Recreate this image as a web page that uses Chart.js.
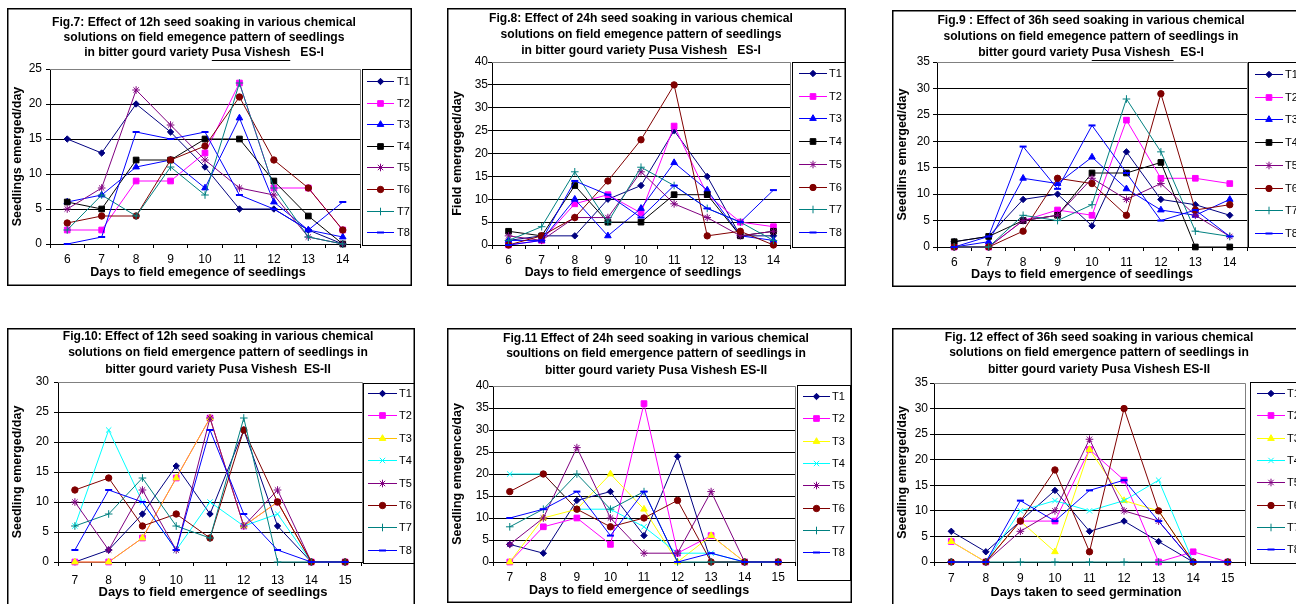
<!DOCTYPE html>
<html><head><meta charset="utf-8">
<script src="https://cdn.jsdelivr.net/npm/chart.js@4/dist/chart.umd.min.js"></script>
<style>
html,body{margin:0;padding:0;background:#fff;overflow:hidden;width:1296px;height:604px;position:relative;}
canvas{position:absolute;}
</style></head><body>
<script>
// ---------- DATA ----------
const seriesNames = ['T1','T2','T3','T4','T5','T6','T7','T8'];
const daysES1 = ['6','7','8','9','10','11','12','13','14'];
const daysES2 = ['7','8','9','10','11','12','13','14','15'];
const yMaxes = [25, 40, 35, 30, 40, 35];
const yStep = 5;

const fig7Values = [
  [15,13,20,16,11,5,5,2,0],
  [2,2,9,9,13,23,8,8,2],
  [6,7,11,12,8,18,6,2,1],
  [6,5,12,12,15,15,9,4,0],
  [5,8,22,17,12,8,7,1,0],
  [3,4,4,12,14,21,12,8,2],
  [2,7,4,11,7,23,8,1,0],
  [0,1,16,15,16,7,5,2,6]
];
const fig8Values = [
  [1,2,2,10,13,25,15,2,2],
  [0,1,9,11,7,26,11,5,4],
  [1,1,10,2,8,18,12,2,1],
  [3,2,13,5,5,11,11,2,3],
  [2,1,6,6,16,9,6,2,3],
  [0,2,6,14,23,35,2,3,0],
  [1,4,16,5,17,13,8,5,1],
  [0,1,14,11,6,13,8,5,12]
];
const fig9Values = [
  [1,2,9,10,4,18,9,8,6],
  [0,0,5,7,6,24,13,13,12],
  [0,1,13,12,17,11,7,6,9],
  [1,2,5,6,14,14,16,0,0],
  [0,0,5,6,13,9,12,6,2],
  [0,0,3,13,12,6,29,7,8],
  [0,0,6,5,8,28,18,3,2],
  [0,2,19,11,23,14,5,7,2]
];
const fig10Values = [
  [0,2,8,16,8,22,6,0,0],
  [0,0,4,14,24,6,10,0,0],
  [0,0,4,14,24,6,10,0,0],
  [6,22,10,2,10,6,8,0,0],
  [10,2,12,2,24,6,12,0,0],
  [12,14,6,8,4,22,10,0,0],
  [6,8,14,6,4,24,0,0,0],
  [2,12,10,2,22,8,2,0,0]
];
const fig11Values = [
  [4,2,14,16,6,24,0,0,0],
  [0,8,10,4,36,2,6,0,0],
  [0,10,12,20,12,0,6,0,0],
  [20,20,12,12,8,2,2,0,0],
  [4,10,26,10,2,2,16,0,0],
  [16,20,12,8,10,14,0,0,0],
  [8,12,20,12,16,0,0,0,0],
  [10,12,16,6,16,0,2,0,0]
];
const fig12Values = [
  [6,2,8,14,6,8,4,0,0],
  [4,0,8,8,22,16,0,2,0],
  [4,0,8,2,22,12,10,0,0],
  [0,0,10,12,10,12,16,0,0],
  [0,0,6,10,24,10,8,0,0],
  [0,0,8,18,2,30,10,0,0],
  [0,0,0,0,0,0,0,0,0],
  [0,0,12,8,14,16,8,0,0]
];

// ---------- STYLES ----------
const FONT = '"Liberation Sans", Arial, Helvetica, sans-serif';
const colorsA = ['#000080','#FF00FF','#0000FF','#000000','#800080','#800000','#008080','#0000FF'];
const colorsB = ['#000080','#FF00FF','#FFFF00','#00FFFF','#800080','#800000','#008080','#0000FF'];
const linesB10 = ['#000080','#FF00FF','#FFC000','#00FFFF','#800080','#800000','#008080','#0000FF'];
const stylesA = ['rectRot','rect','triangle','rect','star','circle','cross','line'];
const stylesB = ['rectRot','rect','triangle','crossRot','star','circle','cross','line'];
const radiusOf = {rectRot:3.2, rect:4, triangle:3.8, crossRot:3.8, star:3.8, circle:3.2, cross:3.8, line:3.5};

const PANELS = [
 {box:[7,8,412,286], plot:[50,69,360,244], legend:[362,69,411,245], titleX:204, titleY:[23,38,53],
  yTitleX:18, xTitleX:198, xTitleY:273, legY0:81, legStep:21.6, legLine:[367,394], legText:397,
  yPad:4, xPad:4, xTitleSize:12.5,
  title:[[['Fig.7: Effect of 12h seed soaking in various chemical',0]],[['solutions on field emegence pattern of seedlings',0]],[['in bitter gourd variety ',0],['Pusa Vishesh',1],['   ES-I',0]]],
  yTitle:'Seedlings emerged/day', xTitle:'Days to field emegence of seedlings',
  cats:daysES1, values:fig7Values, lines:colorsA, fills:colorsA, styles:stylesA},
 {box:[447,8,846,286], plot:[492,62,790,245], legend:[792,62,845,247], titleX:641, titleY:[19,35,51],
  yTitleX:458, xTitleX:633, xTitleY:273, legY0:73, legStep:22.7, legLine:[799,827], legText:829,
  yPad:0, xPad:4, xTitleSize:12.3,
  title:[[['Fig.8: Effect of 24h seed soaking in various chemical',0]],[['solutions on field emegence pattern of seedlings',0]],[['in bitter gourd variety ',0],['Pusa Vishesh',1],['   ES-I',0]]],
  yTitle:'Field emergeged/day', xTitle:'Days to field emergence of seedlings',
  cats:daysES1, values:fig8Values, lines:colorsA, fills:colorsA, styles:stylesA},
 {box:[892,10,1320,287], plot:[937,62,1247,247], legend:[1248,62,1330,247], titleX:1091, titleY:[21,37,53],
  yTitleX:903, xTitleX:1082, xTitleY:275, legY0:74, legStep:22.7, legLine:[1255,1283], legText:1285,
  yPad:3, xPad:4, xTitleSize:12.6,
  title:[[['Fig.9 : Effect of 36h seed soaking in various chemical',0]],[['solutions on field emegence pattern of seedlings in',0]],[['bitter gourd variety ',0],['Pusa Vishesh ',1],['  ES-I',0]]],
  yTitle:'Seedlins emerged/day', xTitle:'Days to field emergence of seedlings',
  cats:daysES1, values:fig9Values, lines:colorsA, fills:colorsA, styles:stylesA},
 {box:[7,328,415,620], plot:[58,382,362,562], legend:[363,383,415,563], titleX:218, titleY:[337,353,370],
  yTitleX:18, xTitleX:213, xTitleY:592, legY0:393, legStep:22.4, legLine:[368,397], legText:399,
  yPad:5, xPad:7, xTitleSize:13,
  title:[[['Fig.10: Effect of 12h seed soaking in various chemical',0]],[['solutions on field emergence pattern of seedlings in',0]],[['bitter gourd variety Pusa Vishesh  ES-II',0]]],
  yTitle:'Seedling emerged/day', xTitle:'Days to field emergence of seedlings',
  cats:daysES2, values:fig10Values, lines:linesB10, fills:colorsB, styles:stylesB},
 {box:[447,328,852,603], plot:[493,386,795,562], legend:[797,385,850,580], titleX:656, titleY:[339,354,371],
  yTitleX:458, xTitleX:639, xTitleY:591, legY0:396, legStep:22.3, legLine:[803,830], legText:832,
  yPad:0, xPad:4, xTitleSize:12.5,
  title:[[['Fig.11 Effect of 24h seed soaking in various chemical',0]],[['soultions on field emergence pattern of seedlings in',0]],[['bitter gourd variety Pusa Vishesh ES-II',0]]],
  yTitle:'Seedling emegence/day', xTitle:'Days to field emergence of seedlings',
  cats:daysES2, values:fig11Values, lines:colorsB, fills:colorsB, styles:stylesB},
 {box:[892,328,1320,620], plot:[934,383,1245,562], legend:[1250,382,1330,563], titleX:1099, titleY:[338,353,370],
  yTitleX:903, xTitleX:1086, xTitleY:592, legY0:393, legStep:22.3, legLine:[1257,1285], legText:1287,
  yPad:2, xPad:5, xTitleSize:12.7,
  title:[[['Fig. 12 effect of 36h seed soaking in various chemical',0]],[['solutions on field emergence pattern of seedlings in',0]],[['bitter gourd variety Pusa Vishesh ES-II',0]]],
  yTitle:'Seedling emerged/day', xTitle:'Days taken to seed germination',
  cats:daysES2, values:fig12Values, lines:colorsB, fills:colorsB, styles:stylesB}
];

function drawMarker(ctx, style, r, x, y, bw) {
  if (window.Chart && Chart.helpers && Chart.helpers.drawPoint) {
    Chart.helpers.drawPoint(ctx, {pointStyle: style, radius: r, rotation: 0, borderWidth: bw}, x, y);
  } else {
    ctx.beginPath(); ctx.arc(x, y, r, 0, Math.PI*2); ctx.fill();
  }
}

function decorPlugin(p) {
  const bx = p.box[0], by = p.box[1];
  return {
    id: 'decor',
    beforeDatasetsDraw(chart) {
      const ctx = chart.ctx, a = chart.chartArea;
      ctx.save();
      ctx.strokeStyle = '#808080'; ctx.lineWidth = 1;
      ctx.beginPath();
      ctx.moveTo(Math.round(a.left), Math.round(a.top) + 0.5);
      ctx.lineTo(Math.round(a.right) + 0.5, Math.round(a.top) + 0.5);
      ctx.lineTo(Math.round(a.right) + 0.5, Math.round(a.bottom));
      ctx.stroke();
      ctx.restore();
    },
    afterDraw(chart) {
      const ctx = chart.ctx, a = chart.chartArea;
      const W = chart.width, H = chart.height;
      ctx.save();
      // panel border
      ctx.strokeStyle = '#000'; ctx.lineWidth = 1.5;
      ctx.strokeRect(0.75, 0.75, W - 1.5, H - 1.5);
      // title
      ctx.fillStyle = '#000';
      ctx.font = 'bold 12.1px ' + FONT;
      ctx.textBaseline = 'middle';
      ctx.textAlign = 'left';
      p.title.forEach((segs, li) => {
        const y = p.titleY[li] - by;
        let total = 0;
        segs.forEach(s => total += ctx.measureText(s[0]).width);
        let x = p.titleX - bx - total / 2;
        segs.forEach(s => {
          const w = ctx.measureText(s[0]).width;
          ctx.fillText(s[0], x, y);
          if (s[1]) {
            ctx.lineWidth = 1; ctx.strokeStyle = '#000';
            ctx.beginPath(); ctx.moveTo(x, Math.round(y + 7) + 0.5); ctx.lineTo(x + w, Math.round(y + 7) + 0.5); ctx.stroke();
          }
          x += w;
        });
      });
      // x axis title
      ctx.font = 'bold ' + p.xTitleSize + 'px ' + FONT;
      ctx.textAlign = 'center';
      ctx.fillText(p.xTitle, p.xTitleX - bx, p.xTitleY - by);
      // y axis title
      ctx.save();
      ctx.translate(p.yTitleX - bx, (a.top + a.bottom) / 2);
      ctx.rotate(-Math.PI / 2);
      ctx.font = 'bold 12.5px ' + FONT;
      ctx.fillText(p.yTitle, 0, 0);
      ctx.restore();
      // legend
      const lb = p.legend;
      ctx.strokeStyle = '#000'; ctx.lineWidth = 1;
      ctx.strokeRect(lb[0] - bx + 0.5, lb[1] - by + 0.5, lb[2] - lb[0], lb[3] - lb[1]);
      ctx.font = '11px ' + FONT;
      ctx.textAlign = 'left';
      seriesNames.forEach((name, i) => {
        const y = Math.round(p.legY0 + i * p.legStep - by) + 0.5;
        const x1 = p.legLine[0] - bx, x2 = p.legLine[1] - bx;
        ctx.strokeStyle = p.lines[i]; ctx.lineWidth = 1;
        ctx.beginPath(); ctx.moveTo(x1, y); ctx.lineTo(x2, y); ctx.stroke();
        const st = p.styles[i];
        ctx.fillStyle = p.fills[i]; ctx.strokeStyle = p.fills[i];
        ctx.lineWidth = st === 'line' ? 2 : 1;
        drawMarker(ctx, st, radiusOf[st], (x1 + x2) / 2, y, ctx.lineWidth);
        ctx.fillStyle = '#000';
        ctx.fillText(name, p.legText - bx, y);
      });
      ctx.restore();
    }
  };
}

Chart.defaults.font.family = FONT;
Chart.defaults.color = '#000';

PANELS.forEach((p, pi) => {
  const bx = p.box[0], by = p.box[1];
  const W = p.box[2] - p.box[0], H = p.box[3] - p.box[1];
  const cv = document.createElement('canvas');
  cv.width = W; cv.height = H;
  cv.style.left = bx + 'px'; cv.style.top = by + 'px';
  cv.style.width = W + 'px'; cv.style.height = H + 'px';
  document.body.appendChild(cv);
  const yMax = yMaxes[pi];
  const yW = p.plot[0] - bx;
  const xH = 30;
  const padTop = p.plot[1] - by;
  const padRight = W - (p.plot[2] - bx);
  const padBottom = H - (p.plot[3] - by) - xH;

  const datasets = p.values.map((vals, i) => {
    const st = p.styles[i];
    return {
      label: seriesNames[i],
      data: vals,
      borderColor: p.lines[i],
      backgroundColor: p.fills[i],
      borderWidth: 1,
      pointStyle: st,
      pointRadius: radiusOf[st],
      pointHoverRadius: radiusOf[st],
      pointBackgroundColor: p.fills[i],
      pointBorderColor: p.fills[i],
      pointBorderWidth: st === 'line' ? 2 : 1,
      tension: 0,
      fill: false,
      clip: false,
      order: 7 - i
    };
  });

  new Chart(cv, {
    type: 'line',
    data: { labels: p.cats, datasets },
    options: {
      responsive: false,
      animation: false,
      devicePixelRatio: 1,
      events: [],
      layout: { padding: { left: 0, top: padTop, right: padRight, bottom: padBottom } },
      plugins: { legend: { display: false }, title: { display: false }, tooltip: { enabled: false } },
      scales: {
        x: {
          type: 'category',
          offset: true,
          grid: { offset: true, drawOnChartArea: false, drawTicks: true, tickLength: 4, color: '#000', lineWidth: 1 },
          border: { color: '#000', width: 1 },
          ticks: { font: { size: 12, family: FONT }, color: '#000', padding: p.xPad, maxRotation: 0, autoSkip: false },
          afterFit: s => { s.height = xH; }
        },
        y: {
          min: 0, max: yMax,
          grid: {
            color: c => (c.tick && (c.tick.value === 0 || c.tick.value === yMax)) ? 'rgba(0,0,0,0)' : '#000',
            tickColor: '#000', tickLength: 4, lineWidth: 1, drawTicks: true
          },
          border: { color: '#000', width: 1 },
          ticks: { stepSize: yStep, font: { size: 12, family: FONT }, color: '#000', padding: p.yPad },
          afterFit: s => { s.width = yW; }
        }
      }
    },
    plugins: [decorPlugin(p)]
  });
});
</script>
</body></html>
